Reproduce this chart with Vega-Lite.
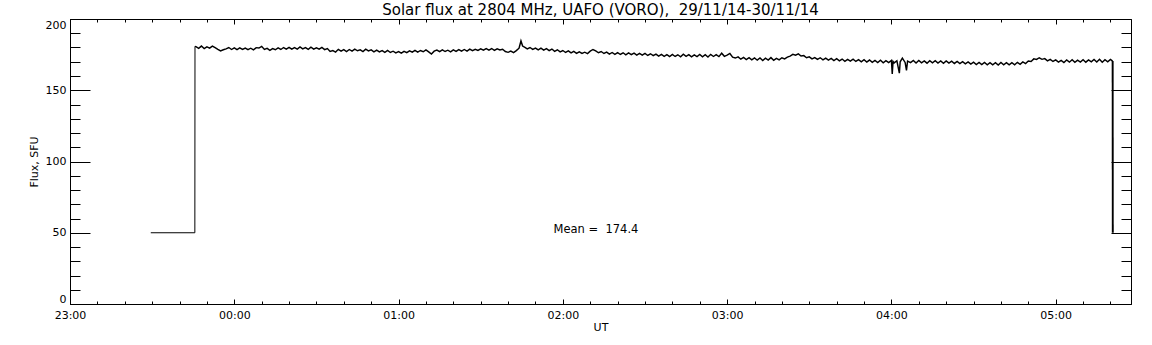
{
"$schema": "https://vega.github.io/schema/vega-lite/v6.json",
"width": 1061, "height": 285,
"autosize": {"type": "none"},
"padding": {"left": 70, "top": 19, "right": 21, "bottom": 41},
"background": "white",
"config": {
 "view": {"stroke": "black", "strokeWidth": 1},
 "axis": {"domain": false, "grid": false, "tickColor": "black", "tickWidth": 1, "labelColor": "black", "labelFont": "DejaVu Sans", "labelFontSize": 11, "titleFont": "DejaVu Sans", "titleFontSize": 11, "titleFontWeight": "normal", "titleColor": "black", "labelOverlap": false, "labelBound": false}
},
"title": {"text": "Solar flux at 2804 MHz, UAFO (VORO),\u00a0 29/11/14-30/11/14", "font": "DejaVu Sans", "fontSize": 15, "fontWeight": "normal", "color": "black", "anchor": "middle", "offset": 1},
"datasets": {
 "flux": [
{"t":29.5,"f":50,"part":"start"},{"t":45.6,"f":50,"part":"start"},{"t":45.65,"f":180.8,"part":"start"},
{"t":45.65,"f":180.8,"part":"body"},
{"t":46,"f":180.6,"part":"body"},{"t":47,"f":179.4,"part":"body"},{"t":48,"f":181.0,"part":"body"},{"t":49,"f":179.3,"part":"body"},{"t":50,"f":180.5,"part":"body"},{"t":51,"f":179.6,"part":"body"},{"t":52,"f":181.0,"part":"body"},{"t":53,"f":179.9,"part":"body"},{"t":54,"f":178.7,"part":"body"},{"t":55,"f":177.6,"part":"body"},
{"t":56,"f":178.4,"part":"body"},{"t":57,"f":179.0,"part":"body"},{"t":58,"f":180.0,"part":"body"},{"t":59,"f":178.6,"part":"body"},{"t":60,"f":179.8,"part":"body"},{"t":61,"f":178.5,"part":"body"},{"t":62,"f":179.7,"part":"body"},{"t":63,"f":178.6,"part":"body"},{"t":64,"f":179.6,"part":"body"},{"t":65,"f":178.5,"part":"body"},
{"t":66,"f":179.5,"part":"body"},{"t":67,"f":178.3,"part":"body"},{"t":68,"f":179.9,"part":"body"},{"t":69,"f":179.6,"part":"body"},{"t":70,"f":180.8,"part":"body"},{"t":71,"f":178.6,"part":"body"},{"t":72,"f":179.4,"part":"body"},{"t":73,"f":178.0,"part":"body"},{"t":74,"f":179.2,"part":"body"},{"t":75,"f":178.4,"part":"body"},
{"t":76,"f":179.7,"part":"body"},{"t":77,"f":178.6,"part":"body"},{"t":78,"f":180.0,"part":"body"},{"t":79,"f":178.9,"part":"body"},{"t":80,"f":180.1,"part":"body"},{"t":81,"f":178.8,"part":"body"},{"t":82,"f":179.9,"part":"body"},{"t":83,"f":178.9,"part":"body"},{"t":84,"f":180.4,"part":"body"},{"t":85,"f":179.0,"part":"body"},
{"t":86,"f":179.9,"part":"body"},{"t":87,"f":178.7,"part":"body"},{"t":88,"f":180.2,"part":"body"},{"t":89,"f":178.9,"part":"body"},{"t":90,"f":179.8,"part":"body"},{"t":91,"f":178.8,"part":"body"},{"t":92,"f":180.0,"part":"body"},{"t":93,"f":178.5,"part":"body"},{"t":94,"f":179.3,"part":"body"},{"t":95,"f":177.2,"part":"body"},
{"t":96,"f":177.8,"part":"body"},{"t":97,"f":176.8,"part":"body"},{"t":98,"f":178.7,"part":"body"},{"t":99,"f":177.4,"part":"body"},{"t":100,"f":178.5,"part":"body"},{"t":101,"f":177.2,"part":"body"},{"t":102,"f":178.6,"part":"body"},{"t":103,"f":177.5,"part":"body"},{"t":104,"f":178.9,"part":"body"},{"t":105,"f":177.7,"part":"body"},
{"t":106,"f":178.4,"part":"body"},{"t":107,"f":177.1,"part":"body"},{"t":108,"f":178.8,"part":"body"},{"t":109,"f":177.6,"part":"body"},{"t":110,"f":178.3,"part":"body"},{"t":111,"f":177.0,"part":"body"},{"t":112,"f":178.2,"part":"body"},{"t":113,"f":176.9,"part":"body"},{"t":114,"f":177.8,"part":"body"},{"t":115,"f":176.6,"part":"body"},
{"t":116,"f":177.9,"part":"body"},{"t":117,"f":176.5,"part":"body"},{"t":118,"f":177.4,"part":"body"},{"t":119,"f":176.2,"part":"body"},{"t":120,"f":177.1,"part":"body"},{"t":121,"f":176.0,"part":"body"},{"t":122,"f":177.3,"part":"body"},{"t":123,"f":176.4,"part":"body"},{"t":124,"f":177.6,"part":"body"},{"t":125,"f":176.7,"part":"body"},
{"t":126,"f":178.0,"part":"body"},{"t":127,"f":176.8,"part":"body"},{"t":128,"f":177.9,"part":"body"},{"t":129,"f":177.0,"part":"body"},{"t":130,"f":178.3,"part":"body"},{"t":131,"f":176.9,"part":"body"},{"t":132,"f":175.4,"part":"body"},{"t":133,"f":177.4,"part":"body"},{"t":134,"f":178.2,"part":"body"},{"t":135,"f":177.1,"part":"body"},
{"t":136,"f":178.4,"part":"body"},{"t":137,"f":177.2,"part":"body"},{"t":138,"f":178.1,"part":"body"},{"t":139,"f":177.0,"part":"body"},{"t":140,"f":178.3,"part":"body"},{"t":141,"f":177.3,"part":"body"},{"t":142,"f":178.5,"part":"body"},{"t":143,"f":177.4,"part":"body"},{"t":144,"f":178.6,"part":"body"},{"t":145,"f":177.5,"part":"body"},
{"t":146,"f":178.9,"part":"body"},{"t":147,"f":177.8,"part":"body"},{"t":148,"f":178.7,"part":"body"},{"t":149,"f":177.9,"part":"body"},{"t":150,"f":179.0,"part":"body"},{"t":151,"f":178.1,"part":"body"},{"t":152,"f":179.2,"part":"body"},{"t":153,"f":178.2,"part":"body"},{"t":154,"f":179.3,"part":"body"},{"t":155,"f":178.0,"part":"body"},
{"t":156,"f":179.1,"part":"body"},{"t":157,"f":178.3,"part":"body"},{"t":158,"f":178.8,"part":"body"},{"t":159,"f":177.2,"part":"body"},{"t":160,"f":176.6,"part":"body"},{"t":161,"f":177.5,"part":"body"},{"t":162,"f":176.4,"part":"body"},{"t":163,"f":177.8,"part":"body"},{"t":164,"f":179.5,"part":"body"},{"t":164.7,"f":184.6,"part":"body"},
{"t":165.3,"f":181.0,"part":"body"},{"t":166,"f":180.2,"part":"body"},{"t":167,"f":179.0,"part":"body"},{"t":168,"f":180.0,"part":"body"},{"t":169,"f":178.7,"part":"body"},{"t":170,"f":179.6,"part":"body"},{"t":171,"f":178.3,"part":"body"},{"t":172,"f":179.5,"part":"body"},{"t":173,"f":178.1,"part":"body"},{"t":174,"f":179.2,"part":"body"},
{"t":175,"f":177.8,"part":"body"},{"t":176,"f":178.9,"part":"body"},{"t":177,"f":177.3,"part":"body"},{"t":178,"f":178.4,"part":"body"},{"t":179,"f":176.9,"part":"body"},{"t":180,"f":177.9,"part":"body"},{"t":181,"f":176.5,"part":"body"},{"t":182,"f":177.6,"part":"body"},{"t":183,"f":176.2,"part":"body"},{"t":184,"f":177.3,"part":"body"},
{"t":185,"f":175.9,"part":"body"},{"t":186,"f":177.0,"part":"body"},{"t":187,"f":175.8,"part":"body"},{"t":188,"f":176.7,"part":"body"},{"t":189,"f":175.7,"part":"body"},{"t":190,"f":177.4,"part":"body"},{"t":191,"f":178.6,"part":"body"},{"t":192,"f":177.6,"part":"body"},{"t":193,"f":176.3,"part":"body"},{"t":194,"f":177.2,"part":"body"},
{"t":195,"f":175.8,"part":"body"},{"t":196,"f":176.8,"part":"body"},{"t":197,"f":175.4,"part":"body"},{"t":198,"f":176.5,"part":"body"},{"t":199,"f":175.2,"part":"body"},{"t":200,"f":176.4,"part":"body"},{"t":201,"f":175.1,"part":"body"},{"t":202,"f":176.3,"part":"body"},{"t":203,"f":174.9,"part":"body"},{"t":204,"f":176.2,"part":"body"},
{"t":205,"f":175.0,"part":"body"},{"t":206,"f":176.1,"part":"body"},{"t":207,"f":174.7,"part":"body"},{"t":208,"f":175.9,"part":"body"},{"t":209,"f":174.6,"part":"body"},{"t":210,"f":175.8,"part":"body"},{"t":211,"f":174.4,"part":"body"},{"t":212,"f":175.6,"part":"body"},{"t":213,"f":174.3,"part":"body"},{"t":214,"f":175.4,"part":"body"},
{"t":215,"f":173.9,"part":"body"},{"t":216,"f":175.1,"part":"body"},{"t":217,"f":173.8,"part":"body"},{"t":218,"f":175.0,"part":"body"},{"t":219,"f":173.6,"part":"body"},{"t":220,"f":175.2,"part":"body"},{"t":221,"f":173.7,"part":"body"},{"t":222,"f":174.9,"part":"body"},{"t":223,"f":173.5,"part":"body"},{"t":224,"f":175.3,"part":"body"},
{"t":225,"f":173.8,"part":"body"},{"t":226,"f":175.0,"part":"body"},{"t":227,"f":173.4,"part":"body"},{"t":228,"f":174.8,"part":"body"},{"t":229,"f":173.6,"part":"body"},{"t":230,"f":175.1,"part":"body"},{"t":231,"f":173.5,"part":"body"},{"t":232,"f":174.9,"part":"body"},{"t":233,"f":173.3,"part":"body"},{"t":234,"f":175.2,"part":"body"},
{"t":235,"f":173.7,"part":"body"},{"t":236,"f":175.0,"part":"body"},{"t":237,"f":173.6,"part":"body"},{"t":238,"f":176.0,"part":"body"},{"t":239,"f":173.8,"part":"body"},{"t":240,"f":174.6,"part":"body"},{"t":241,"f":175.8,"part":"body"},{"t":242,"f":173.2,"part":"body"},{"t":243,"f":172.6,"part":"body"},{"t":244,"f":173.4,"part":"body"},
{"t":245,"f":171.8,"part":"body"},{"t":246,"f":173.0,"part":"body"},{"t":247,"f":171.5,"part":"body"},{"t":248,"f":172.8,"part":"body"},{"t":249,"f":171.3,"part":"body"},{"t":250,"f":172.7,"part":"body"},{"t":251,"f":171.1,"part":"body"},{"t":252,"f":172.6,"part":"body"},{"t":253,"f":170.8,"part":"body"},{"t":254,"f":172.5,"part":"body"},
{"t":255,"f":171.2,"part":"body"},{"t":256,"f":172.9,"part":"body"},{"t":257,"f":171.0,"part":"body"},{"t":258,"f":172.4,"part":"body"},{"t":259,"f":171.3,"part":"body"},{"t":260,"f":172.8,"part":"body"},{"t":261,"f":172.0,"part":"body"},{"t":262,"f":173.2,"part":"body"},{"t":263,"f":174.0,"part":"body"},{"t":264,"f":175.2,"part":"body"},
{"t":265,"f":174.6,"part":"body"},{"t":266,"f":175.5,"part":"body"},{"t":267,"f":174.0,"part":"body"},{"t":268,"f":174.3,"part":"body"},{"t":269,"f":172.8,"part":"body"},{"t":270,"f":173.4,"part":"body"},{"t":271,"f":172.0,"part":"body"},{"t":272,"f":172.9,"part":"body"},{"t":273,"f":171.6,"part":"body"},{"t":274,"f":172.8,"part":"body"},
{"t":275,"f":171.4,"part":"body"},{"t":276,"f":172.6,"part":"body"},{"t":277,"f":171.2,"part":"body"},{"t":278,"f":172.3,"part":"body"},{"t":279,"f":170.8,"part":"body"},{"t":280,"f":172.1,"part":"body"},{"t":281,"f":170.6,"part":"body"},{"t":282,"f":171.9,"part":"body"},{"t":283,"f":170.3,"part":"body"},{"t":284,"f":171.7,"part":"body"},
{"t":285,"f":170.4,"part":"body"},{"t":286,"f":171.8,"part":"body"},{"t":287,"f":170.2,"part":"body"},{"t":288,"f":171.5,"part":"body"},{"t":289,"f":169.9,"part":"body"},{"t":290,"f":171.4,"part":"body"},{"t":291,"f":169.8,"part":"body"},{"t":292,"f":171.2,"part":"body"},{"t":293,"f":169.6,"part":"body"},{"t":294,"f":171.0,"part":"body"},
{"t":295,"f":169.5,"part":"body"},{"t":296,"f":171.1,"part":"body"},{"t":297,"f":169.3,"part":"body"},{"t":298,"f":170.8,"part":"body"},{"t":299,"f":169.4,"part":"body"},{"t":300,"f":170.9,"part":"body"},{"t":300.3,"f":161.5,"part":"body"},{"t":300.6,"f":170.2,"part":"body"},{"t":301,"f":169.2,"part":"body"},{"t":302,"f":170.7,"part":"body"},
{"t":302.9,"f":162.0,"part":"body"},{"t":303.2,"f":170.0,"part":"body"},{"t":304,"f":172.5,"part":"body"},{"t":305,"f":169.5,"part":"body"},{"t":305.5,"f":164.0,"part":"body"},{"t":305.9,"f":170.4,"part":"body"},{"t":307,"f":169.4,"part":"body"},{"t":308,"f":170.9,"part":"body"},{"t":309,"f":169.1,"part":"body"},{"t":310,"f":170.9,"part":"body"},
{"t":311,"f":169.2,"part":"body"},{"t":312,"f":170.6,"part":"body"},{"t":313,"f":169.0,"part":"body"},{"t":314,"f":170.8,"part":"body"},{"t":315,"f":169.3,"part":"body"},{"t":316,"f":170.7,"part":"body"},{"t":317,"f":169.1,"part":"body"},{"t":318,"f":170.5,"part":"body"},{"t":319,"f":168.9,"part":"body"},{"t":320,"f":170.6,"part":"body"},
{"t":321,"f":169.0,"part":"body"},{"t":322,"f":170.4,"part":"body"},{"t":323,"f":168.8,"part":"body"},{"t":324,"f":170.2,"part":"body"},{"t":325,"f":168.7,"part":"body"},{"t":326,"f":170.1,"part":"body"},{"t":327,"f":168.5,"part":"body"},{"t":328,"f":169.9,"part":"body"},{"t":329,"f":168.3,"part":"body"},{"t":330,"f":169.7,"part":"body"},
{"t":331,"f":168.1,"part":"body"},{"t":332,"f":169.6,"part":"body"},{"t":333,"f":168.0,"part":"body"},{"t":334,"f":169.5,"part":"body"},{"t":335,"f":167.9,"part":"body"},{"t":336,"f":169.4,"part":"body"},{"t":337,"f":167.8,"part":"body"},{"t":338,"f":169.3,"part":"body"},{"t":339,"f":167.7,"part":"body"},{"t":340,"f":169.5,"part":"body"},
{"t":341,"f":167.9,"part":"body"},{"t":342,"f":169.4,"part":"body"},{"t":343,"f":167.8,"part":"body"},{"t":344,"f":169.3,"part":"body"},{"t":345,"f":167.9,"part":"body"},{"t":346,"f":169.6,"part":"body"},{"t":347,"f":168.2,"part":"body"},{"t":348,"f":169.9,"part":"body"},{"t":349,"f":168.7,"part":"body"},{"t":350,"f":170.5,"part":"body"},
{"t":351,"f":170.2,"part":"body"},{"t":352,"f":172.0,"part":"body"},{"t":353,"f":171.6,"part":"body"},{"t":354,"f":172.8,"part":"body"},{"t":355,"f":171.7,"part":"body"},{"t":356,"f":172.2,"part":"body"},{"t":357,"f":170.6,"part":"body"},{"t":358,"f":171.7,"part":"body"},{"t":359,"f":170.2,"part":"body"},{"t":360,"f":171.3,"part":"body"},
{"t":361,"f":169.7,"part":"body"},{"t":362,"f":171.0,"part":"body"},{"t":363,"f":169.5,"part":"body"},{"t":364,"f":171.2,"part":"body"},{"t":365,"f":169.7,"part":"body"},{"t":366,"f":171.4,"part":"body"},{"t":367,"f":169.6,"part":"body"},{"t":368,"f":171.1,"part":"body"},{"t":369,"f":169.8,"part":"body"},{"t":370,"f":171.5,"part":"body"},
{"t":371,"f":169.7,"part":"body"},{"t":372,"f":171.3,"part":"body"},{"t":373,"f":169.9,"part":"body"},{"t":374,"f":171.6,"part":"body"},{"t":375,"f":169.8,"part":"body"},{"t":376,"f":171.7,"part":"body"},{"t":377,"f":169.6,"part":"body"},{"t":378,"f":171.4,"part":"body"},{"t":379,"f":169.9,"part":"body"},{"t":380,"f":171.6,"part":"body"},
{"t":380.8,"f":170.5,"part":"body"},
{"t":380.8,"f":170.5,"part":"end"},{"t":380.85,"f":50,"part":"end"}
 ],
 "note": [{"t": 176.6, "f": 50, "label": "Mean =\u00a0 174.4"}]
},
"layer": [
 {"data": {"name": "flux"}, "mark": {"type": "line", "color": "black"},
  "encoding": {
   "x": {"field": "t", "type": "quantitative", "scale": {"domain": [0, 387.5], "nice": false, "zero": false},
         "axis": {"orient": "bottom", "values": [0,60,120,180,240,300,360], "tickSize": -5, "labelPadding": 10, "labelFlush": false,
                  "labelExpr": "['23:00','00:00','01:00','02:00','03:00','04:00','05:00'][round(datum.value/60)]", "title": "UT", "titlePadding": 1}},
   "y": {"field": "f", "type": "quantitative", "scale": {"domain": [0, 200], "nice": false, "zero": true},
         "axis": {"orient": "left", "values": [0,50,100,150,200], "tickSize": -20, "labelPadding": 24, "labelFlush": true, "title": "Flux, SFU", "titlePadding": 6}},
   "detail": {"field": "part", "type": "nominal"},
   "strokeWidth": {"field": "part", "type": "nominal", "scale": {"domain": ["start", "body", "end"], "range": [1, 1.9, 1]}, "legend": null}
  }},
 {"data": {"name": "flux"}, "mark": {"type": "line", "opacity": 0},
  "encoding": {
   "x": {"field": "t", "type": "quantitative", "axis": {"orient": "bottom", "values": [0,10,20,30,40,50,60,70,80,90,100,110,120,130,140,150,160,170,180,190,200,210,220,230,240,250,260,270,280,290,300,310,320,330,340,350,360,370,380], "tickSize": -3, "labels": false, "title": null}},
   "y": {"field": "f", "type": "quantitative", "axis": {"orient": "left", "values": [0,10,20,30,40,50,60,70,80,90,100,110,120,130,140,150,160,170,180,190,200], "tickSize": -10, "labels": false, "title": null}}
  }},
 {"data": {"name": "flux"}, "mark": {"type": "line", "opacity": 0},
  "encoding": {
   "x": {"field": "t", "type": "quantitative", "axis": {"orient": "top", "values": [0,60,120,180,240,300,360], "tickSize": -5, "labels": false, "title": null}},
   "y": {"field": "f", "type": "quantitative", "axis": {"orient": "right", "values": [0,50,100,150,200], "tickSize": -20, "labels": false, "title": null}}
  }},
 {"data": {"name": "flux"}, "mark": {"type": "line", "opacity": 0},
  "encoding": {
   "x": {"field": "t", "type": "quantitative", "axis": {"orient": "top", "values": [0,10,20,30,40,50,60,70,80,90,100,110,120,130,140,150,160,170,180,190,200,210,220,230,240,250,260,270,280,290,300,310,320,330,340,350,360,370,380], "tickSize": -3, "labels": false, "title": null}},
   "y": {"field": "f", "type": "quantitative", "axis": {"orient": "right", "values": [0,10,20,30,40,50,60,70,80,90,100,110,120,130,140,150,160,170,180,190,200], "tickSize": -10, "labels": false, "title": null}}
  }},
 {"data": {"name": "note"}, "mark": {"type": "text", "align": "left", "baseline": "alphabetic", "font": "DejaVu Sans", "fontSize": 11.5, "color": "black"},
  "encoding": {
   "x": {"field": "t", "type": "quantitative", "axis": null},
   "y": {"field": "f", "type": "quantitative", "axis": null},
   "text": {"field": "label"}
  }}
],
"resolve": {"scale": {"x": "shared", "y": "shared"}, "axis": {"x": "independent", "y": "independent"}}
}
